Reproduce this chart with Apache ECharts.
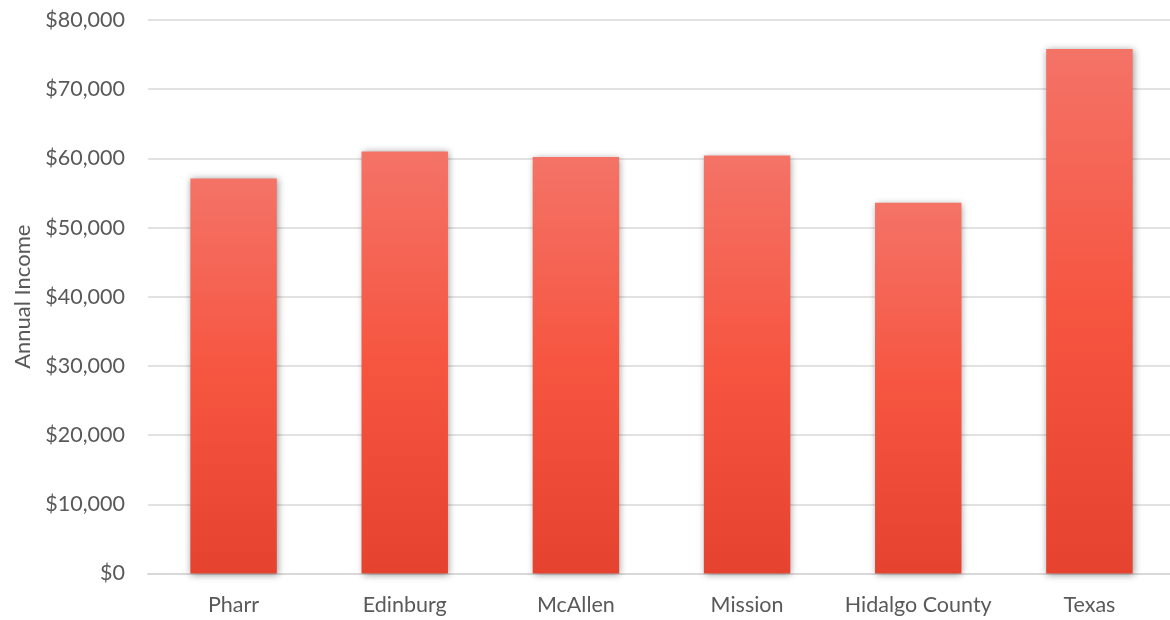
<!DOCTYPE html>
<html>
<head>
<meta charset="utf-8">
<script src="https://cdn.jsdelivr.net/npm/echarts@6/dist/echarts.min.js"></script>
<style>
  html, body { margin: 0; padding: 0; background: #ffffff; }
  #chart { width: 1170px; height: 620px; }
</style>
</head>
<body>
<div id="chart"></div>
<script>
// Median household income by place
const places = ['Pharr', 'Edinburg', 'McAllen', 'Mission', 'Hidalgo County', 'Texas'];
const income = [57100, 61000, 60200, 60400, 53600, 75800];

const yMin = 0;
const yMax = 80000;
const yStep = 10000;

const chart = echarts.init(document.getElementById('chart'));

const fontFamily = 'Lato, "Open Sans", sans-serif';

chart.setOption({
  animation: false,
  // plot area runs slightly past the right edge of the canvas
  grid: {
    left: 148, width: 1027, top: 20, bottom: 46.5,
    containLabel: false,
    outerBoundsMode: 'none'
  },
  xAxis: {
    type: 'category',
    data: places,
    axisLine: { show: true, lineStyle: { color: '#d9d9d9', width: 2 } },
    axisTick: { show: false },
    axisLabel: { color: '#595959', fontSize: 21.5, fontFamily, margin: 21, interval: 0 }
  },
  yAxis: {
    type: 'value',
    min: yMin,
    max: yMax,
    interval: yStep,
    name: 'Annual Income',
    nameLocation: 'middle',
    nameGap: 110,
    nameTextStyle: { color: '#595959', fontSize: 22, fontFamily },
    axisLine: { show: false },
    axisTick: { show: false },
    splitLine: { lineStyle: { color: '#d9d9d9', width: 1.5 } },
    axisLabel: {
      color: '#595959',
      fontSize: 21.5,
      fontFamily,
      margin: 23,
      formatter: v => '$' + v.toLocaleString('en-US')
    }
  },
  series: [{
    type: 'bar',
    data: income,
    barWidth: '50.5%',
    itemStyle: {
      color: new echarts.graphic.LinearGradient(0, 0, 0, 1, [
        { offset: 0, color: '#f47367' },
        { offset: 0.5, color: '#f65540' },
        { offset: 1, color: '#e5432f' }
      ]),
      shadowColor: 'rgba(0,0,0,0.4)',
      shadowBlur: 7,
      shadowOffsetX: 1,
      shadowOffsetY: 1
    }
  }]
});
</script>
</body>
</html>
